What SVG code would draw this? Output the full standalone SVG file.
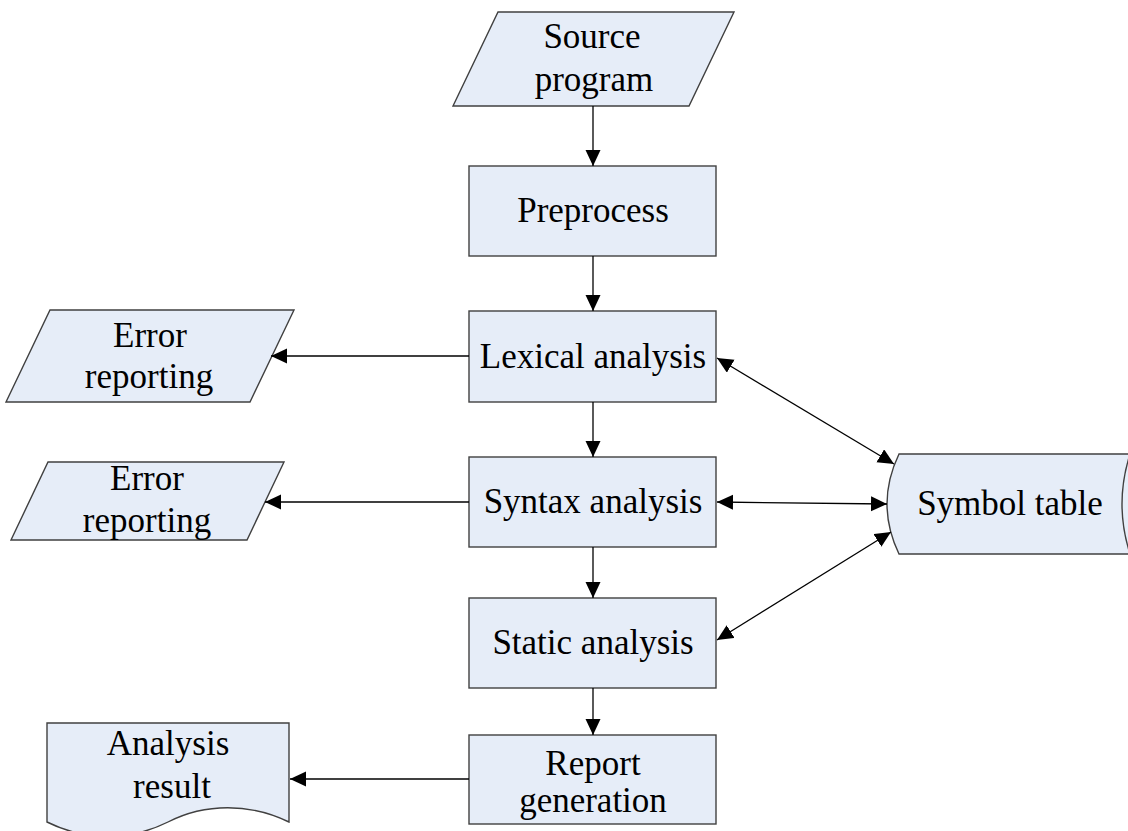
<svg xmlns="http://www.w3.org/2000/svg" width="1128" height="831" viewBox="0 0 1128 831">
<style>
.shape{fill:#e6edf8;stroke:#404040;stroke-width:1.4}
.lbl{font-family:"Liberation Serif","Times New Roman",serif;font-size:35px;fill:#000;text-anchor:middle}
.conn{fill:none;stroke:#000;stroke-width:1.3}
</style>
<defs>
<marker id="ah" markerUnits="userSpaceOnUse" markerWidth="17" markerHeight="16" refX="16" refY="7.5" orient="auto-start-reverse">
<path d="M0,0 L16,7.5 L0,15 z" fill="#000"/>
</marker>
</defs>
<rect width="1128" height="831" fill="#fff"/>
<g id="source">
<polygon class="shape" points="498,12 734,12 689,106 453,106"/>
<text class="lbl" x="592" y="48">Source</text>
<text class="lbl" x="594" y="91">program</text>
</g>
<g id="preprocess">
<rect class="shape" x="469" y="166" width="247" height="90"/>
<text class="lbl" x="593" y="222">Preprocess</text>
</g>
<g id="lexical">
<rect class="shape" x="469" y="311" width="247" height="91"/>
<text class="lbl" x="593" y="368">Lexical analysis</text>
</g>
<g id="syntax">
<rect class="shape" x="469" y="457" width="247" height="90"/>
<text class="lbl" x="593" y="513">Syntax analysis</text>
</g>
<g id="static">
<rect class="shape" x="469" y="598" width="247" height="90"/>
<text class="lbl" x="593" y="654">Static analysis</text>
</g>
<g id="report">
<rect class="shape" x="469" y="735" width="247" height="89"/>
<text class="lbl" x="593" y="775">Report</text>
<text class="lbl" x="593" y="812">generation</text>
</g>
<g id="error1">
<polygon class="shape" points="50,310 294,310 250,402 6,402"/>
<text class="lbl" x="150" y="347">Error</text>
<text class="lbl" x="149" y="388">reporting</text>
</g>
<g id="error2">
<polygon class="shape" points="48,462 284,462 247,540 11,540"/>
<text class="lbl" x="147" y="490">Error</text>
<text class="lbl" x="147" y="532">reporting</text>
</g>
<g id="result">
<path class="shape" d="M47,723 H289 V822 C250,803 205,803 168,822 C130,841 85,841 47,822 Z"/>
<text class="lbl" x="168" y="755">Analysis</text>
<text class="lbl" x="172" y="798">result</text>
</g>
<g id="symtable">
<path class="shape" d="M899,454 H1140 V554 H899 Q875,504 899,454 Z"/>
<path class="shape" style="fill:none" d="M1130,454 Q1114,504 1130,554"/>
<text class="lbl" x="1010" y="515">Symbol table</text>
</g>
<g id="connectors">
<path class="conn" d="M593,106 V166" marker-end="url(#ah)"/>
<path class="conn" d="M593,256 V311" marker-end="url(#ah)"/>
<path class="conn" d="M593,402 V457" marker-end="url(#ah)"/>
<path class="conn" d="M593,547 V598" marker-end="url(#ah)"/>
<path class="conn" d="M593,688 V735" marker-end="url(#ah)"/>
<path class="conn" d="M469,356 H271" marker-end="url(#ah)"/>
<path class="conn" d="M469,502 H265" marker-end="url(#ah)"/>
<path class="conn" d="M469,779 H290" marker-end="url(#ah)"/>
<path class="conn" d="M717,358 L894,464" marker-start="url(#ah)" marker-end="url(#ah)"/>
<path class="conn" d="M717,502 L887,504" marker-start="url(#ah)" marker-end="url(#ah)"/>
<path class="conn" d="M717,640 L891,532" marker-start="url(#ah)" marker-end="url(#ah)"/>
</g>
</svg>
